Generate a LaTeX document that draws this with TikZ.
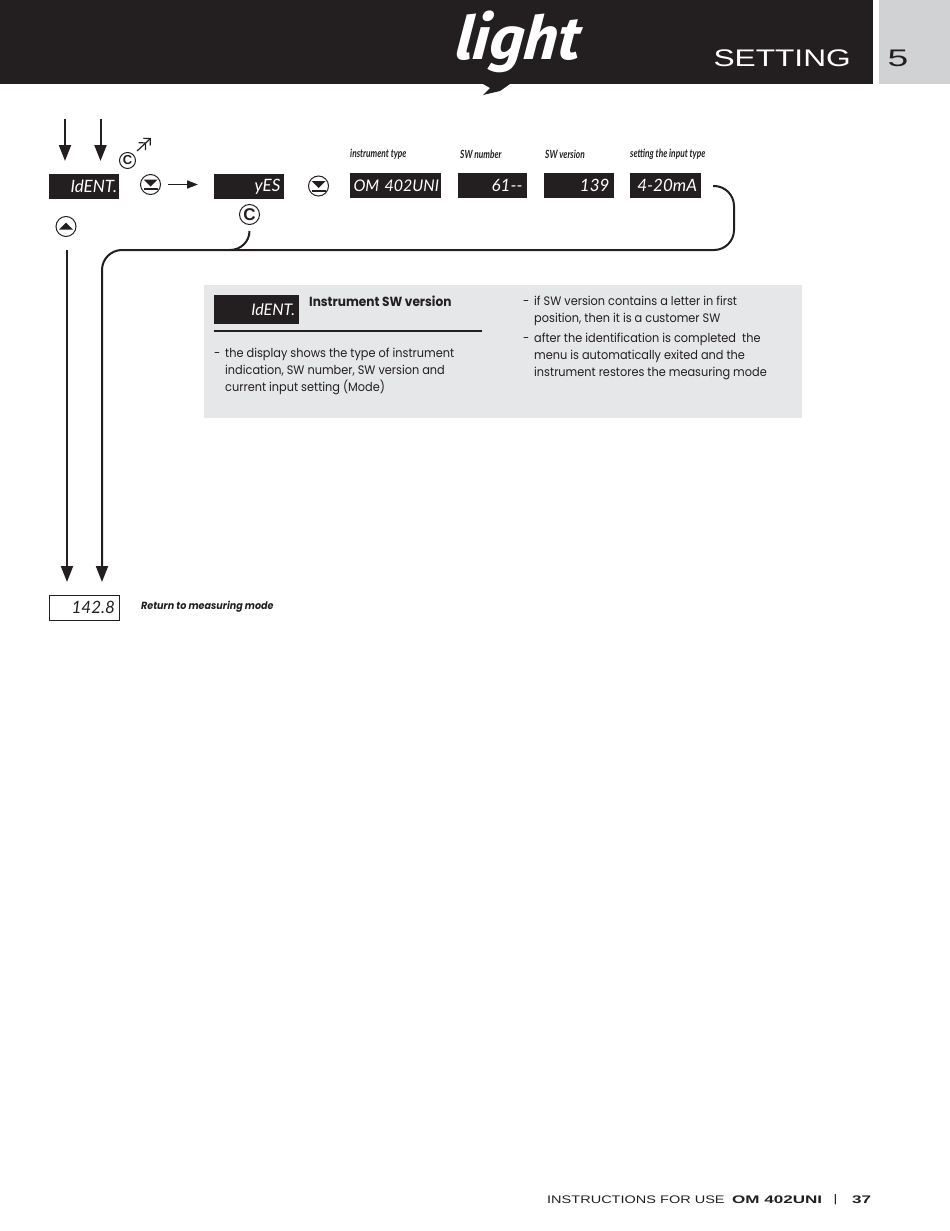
\documentclass[tikz,border=0pt]{standalone}
\usepackage{fontspec}
\usepackage{xcolor}
\usepackage{tikz}
\usetikzlibrary{calc,arrows.meta,positioning}
\setmainfont[FakeStretch=0.92]{Poppins}
\newfontfamily\widefont[FakeStretch=1.32]{Liberation Sans}
\newfontfamily\xwidefont[FakeStretch=1.55]{Liberation Sans}
\newfontfamily\btnfont{Liberation Sans}
\newfontfamily\capfont[FakeStretch=0.74]{Lato}
\newfontfamily\dispfont{Lato}
\newfontfamily\logofont[FakeSlant=0.12]{Fira Sans}
\definecolor{inkc}{HTML}{231F20}
\definecolor{sidec}{HTML}{D1D2D4}
\definecolor{panelc}{HTML}{E6E7E8}
\tikzset{
  ar/.style={-{Stealth[length=16pt,width=12pt,inset=0pt]},line width=2pt,inkc},
  disp/.style={fill=inkc,text=white,minimum height=25pt,inner sep=0pt,align=right,font=\dispfont\itshape\fontsize{17}{17}\selectfont},
  capt/.style={anchor=west,inner sep=0pt,inkc,font=\capfont\bfseries\itshape\fontsize{11.3}{11.3}\selectfont},
  txt/.style={anchor=north west,inner sep=0pt,align=left,inkc,font=\fontsize{12.3}{17}\selectfont},
  btn/.style={circle,draw=inkc,line width=1pt,minimum size=20pt,inner sep=0pt,inkc},
  dnbtn/.style={btn,path picture={
    \fill[inkc] ($(path picture bounding box.center)+(-7,-5)$)--++(14,0)--++(-7,7)--cycle;
    \fill[inkc] ($(path picture bounding box.center)+(-7,3.5)$) rectangle ++(14,2);}}
}
\begin{document}
\begin{tikzpicture}[x=1pt,y=-1pt]
\useasboundingbox (0,0) rectangle (950,1231);
% header
\fill[inkc] (0,0) rectangle (873,84);
\fill[sidec] (879,0) rectangle (950,84);
\fill[inkc] (483,84)--(510,84)--(500,91)--(483,95)--(490,88)--cycle;
\node[white,inner sep=0pt,font=\logofont\bfseries\itshape\fontsize{60}{60}\selectfont] (logo) at (517,42) {light};
\node[white,anchor=east,inner sep=0pt,font=\widefont\fontsize{24}{24}\selectfont] (title) at (851,58) {SETTING};
\node[inkc,inner sep=0pt,font=\xwidefont\fontsize{24}{24}\selectfont] (chap) at (898,58) {5};
% displays
\node[disp,minimum width=70pt,text width=66pt] (ident) at (84,186.5) {IdENT.};
\node[disp,minimum width=70pt,text width=63pt] (yes) at (249,186.5) {yES};
\node[disp,minimum width=91pt,text width=87pt,font=\dispfont\itshape\fontsize{16}{16}\selectfont] (om) at (395.5,185.5) {\mbox{OM 402UNI}};
\node[disp,minimum width=69pt,text width=60pt] (swn) at (492.5,185.5) {61--};
\node[disp,minimum width=70pt,text width=61pt] (swv) at (579,185.5) {139};
\node[disp,minimum width=71pt,text width=63pt] (mode) at (665.5,185.5) {4-20mA};
\node[disp,fill=white,text=inkc,draw=inkc,line width=0.7pt,minimum width=70pt,text width=62pt] (meas) at (84,607.5) {142.8};
% captions
\node[capt] (c1) at (350,154) {instrument type};
\node[capt] (c2) at (460,154) {SW number};
\node[capt] (c3) at (545,154) {SW version};
\node[capt] (c4) at (630,154) {setting the input type};
% buttons
\node[dnbtn] (b1) at (150.5,184.5) {};
\node[dnbtn] (b2) at (318.5,186) {};
\node[btn,path picture={\fill[inkc] ($(path picture bounding box.center)+(-7,3)$)--++(14,0)--++(-7,-7)--cycle;}] (b3) at (66,226.5) {};
\node[btn,minimum size=16pt,font=\btnfont\bfseries\fontsize{13}{13}\selectfont] (c5) at (127.5,160.5) {C};
\node[btn,minimum size=20pt,font=\btnfont\bfseries\fontsize{17}{17}\selectfont] (c6) at (249.5,214.5) {C};
% arrows
\coordinate (a1) at (65,119); \coordinate (a2) at (65,161);
\coordinate (a3) at (100.5,119); \coordinate (a4) at (100.5,161);
\draw[ar] (a1)--(a2);
\draw[ar] (a3)--(a4);
\coordinate (e1) at (137,151); \coordinate (e2) at (151,138);
\draw[-{Straight Barb[length=5pt,width=10pt] Straight Barb[length=5pt,width=10pt]},line width=1.2pt,inkc] (e1)--(e2);
\coordinate (f1) at (168,184.5); \coordinate (f2) at (198,184.5);
\draw[-{Stealth[length=11pt,width=8pt,inset=0pt]},line width=1.8pt,inkc] (f1)--(f2);
\coordinate (g1) at (67,250); \coordinate (g2) at (67,582);
\draw[ar] (g1)--(g2);
% return line
\coordinate (r1) at (713,186); \coordinate (r2) at (102,582);
\draw[ar,rounded corners=20pt] (r1)--(734,186)--(734,250)--(102,250)--(r2);
\coordinate (k1) at (249.5,231);
\draw[line width=2pt,inkc] (k1) to[out=-90,in=0] (230,250);
% panel
\fill[panelc] (204,285) rectangle (802,418);
\node[disp,minimum width=85pt,minimum height=29pt,text width=77pt,font=\dispfont\itshape\fontsize{16}{16}\selectfont] (ident2) at (256.5,309.5) {IdENT.};
\node[txt,font=\bfseries\fontsize{13.2}{17}\selectfont] (head) at (309,296) {Instrument SW version};
\coordinate (h1) at (214,331); \coordinate (h2) at (482,331);
\draw[inkc,line width=1.5pt] (h1)--(h2);
\node[txt] (d1) at (214,348) {\vphantom{l}-};
\node[txt] (t1) at (225,348) {the display shows the type of instrument\\indication, SW number, SW version and\\current input setting (Mode)};
\node[txt] (d2) at (523,296) {\vphantom{l}-};
\node[txt] (t2) at (534,296) {if SW version contains a letter in first\\position, then it is a customer SW};
\node[txt] (d3) at (523,333) {\vphantom{l}-};
\node[txt] (t3) at (534,333) {after the identification is completed\ \ the\\menu is automatically exited and the\\instrument restores the measuring mode};
\node[anchor=west,inner sep=0pt,inkc,font=\bfseries\itshape\fontsize{10.4}{10.4}\selectfont] (ret) at (141,606.5) {Return to measuring mode};
% footer
\node[anchor=west,inner sep=0pt,inkc,font=\widefont\fontsize{11}{11}\selectfont] (f3) at (547,1200) {INSTRUCTIONS FOR USE};
\node[anchor=west,inner sep=0pt,inkc,font=\xwidefont\bfseries\fontsize{11}{11}\selectfont] (f4) at (732,1200) {OM 402UNI};
\node[inner sep=0pt,inkc,font=\widefont\fontsize{11}{11}\selectfont] (f5) at (835.5,1200) {|};
\node[anchor=west,inner sep=0pt,inkc,font=\xwidefont\bfseries\fontsize{11}{11}\selectfont] (f6) at (852,1200) {37};
\end{tikzpicture}
\end{document}
